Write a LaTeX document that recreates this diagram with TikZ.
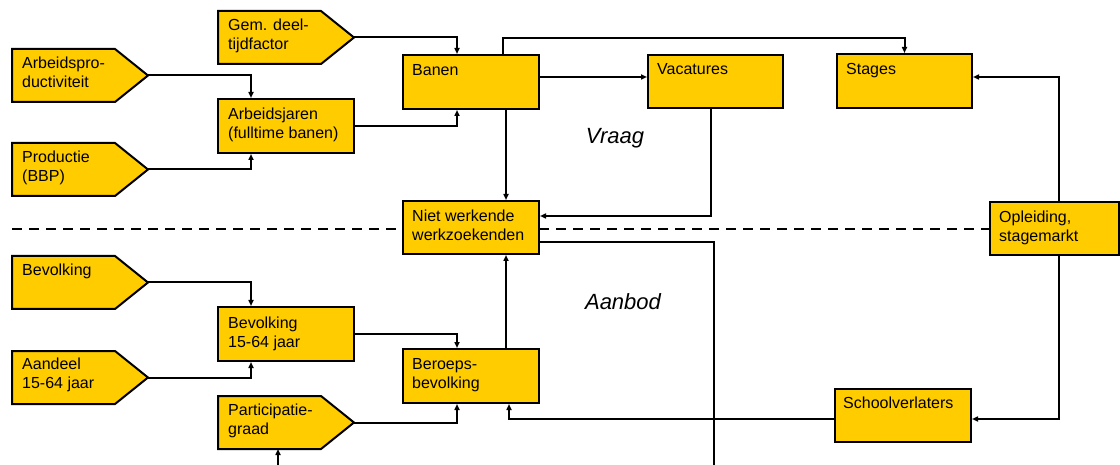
\documentclass[tikz,border=0pt]{standalone}
\usepackage{fontspec}
\setmainfont{Liberation Sans}
\usetikzlibrary{arrows.meta}
\definecolor{boxfill}{RGB}{255,204,0}
\newcommand\twol[2]{\vtop{\baselineskip=19pt\lineskiplimit=-10pt\hbox{#1}\hbox{#2}}}
\newcommand\pentnode[3]{%
 \node[pentbox] (#1) at (#2,#3) {};
 \draw[pentdraw] (#1.north west) -- ([xshift=-33pt]#1.north east) -- (#1.east)
   -- ([xshift=-33pt]#1.south east) -- (#1.south west) -- cycle;}
\begin{document}
\begin{tikzpicture}[x=1pt,y=-1pt,
 box/.style={draw=black, fill=boxfill, line width=2pt, rectangle, minimum width=136pt, minimum height=54pt, inner sep=0pt},
 pentbox/.style={rectangle, minimum width=136pt, minimum height=53pt, inner sep=0pt, outer sep=0pt},
 pentdraw/.style={draw=black, fill=boxfill, line width=2pt, line join=miter},
 lbl/.style={anchor=base west, inner sep=0pt, font=\fontsize{16}{19}\selectfont},
 big/.style={anchor=base, inner sep=0pt, font=\fontsize{22}{26}\selectfont\itshape},
 conn/.style={line width=2pt, -{Triangle[length=6pt,width=5pt]}},
 plain/.style={line width=2pt},
 sep/.style={line width=2pt, dash pattern=on 10pt off 7pt}]
\useasboundingbox (0,0) rectangle (1120,465);

% separator
\coordinate (dL) at (12,229);
\coordinate (dR) at (990,229);
\draw[sep] (dL) -- (dR);

% input pentagons
\pentnode{gem}{286}{37.5}
\pentnode{arbprod}{80}{75.5}
\pentnode{prod}{80}{169.5}
\pentnode{bev}{80}{282.5}
\pentnode{aand}{80}{377.5}
\pentnode{part}{286}{422.5}

% boxes
\node[box] (arbj) at (286,126) {};
\node[box] (banen) at (471,82) {};
\node[box, minimum width=135pt, minimum height=53pt] (vac) at (715.5,81.5) {};
\node[box, minimum width=135pt] (stages) at (904.5,81) {};
\node[box, minimum height=53pt] (nww) at (471,227.5) {};
\node[box, minimum width=129pt, minimum height=53pt] (opl) at (1054.5,228.5) {};
\node[box] (bev15) at (286,334) {};
\node[box] (ber) at (471,376) {};
\node[box, minimum height=53pt] (school) at (903,415.5) {};

% labels
\node[lbl] (t-gem) at (228,31) {\twol{Gem. deel-}{tijdfactor}};
\node[lbl] (t-arbprod) at (22,69) {\twol{Arbeidspro-}{ductiviteit}};
\node[lbl] (t-prod) at (22,163) {\twol{Productie}{(BBP)}};
\node[lbl] (t-arbj) at (228,120) {\twol{Arbeidsjaren}{(fulltime banen)}};
\node[lbl] (t-banen) at (412,76) {Banen};
\node[lbl] (t-vac) at (657,75) {Vacatures};
\node[lbl] (t-stages) at (846,75) {Stages};
\node[lbl] (t-nww) at (412,222) {\twol{Niet werkende}{werkzoekenden}};
\node[lbl] (t-opl) at (999,223) {\twol{Opleiding,}{stagemarkt}};
\node[lbl] (t-bev) at (22,276) {Bevolking};
\node[lbl] (t-bev15) at (228,328) {\twol{Bevolking}{15-64 jaar}};
\node[lbl] (t-aand) at (22,370) {\twol{Aandeel}{15-64 jaar}};
\node[lbl] (t-part) at (228,415) {\twol{Participatie-}{graad}};
\node[lbl] (t-ber) at (412,369) {\twol{Beroeps-}{bevolking}};
\node[lbl] (t-school) at (843,408) {Schoolverlaters};
\node[big] (vraag) at (615,144) {Vraag};
\node[big] (aanbod) at (623,309) {Aanbod};

% connectors
\draw[conn] (arbprod.east) -| ([xshift=-35pt]arbj.north);
\draw[conn] (prod.east) -| ([xshift=-35pt]arbj.south);
\draw[conn] (gem.east) -| ([xshift=-14pt]banen.north);
\draw[conn] (arbj.east) -| ([xshift=-14pt]banen.south);
\draw[conn] ([yshift=5pt]banen.east) -- ([yshift=5pt]banen.east -| vac.west);
\draw[conn] ([xshift=32pt]banen.north) -- ++(0,-16) -| (stages.north);
\draw[conn] ([xshift=35pt]banen.south) -- ([xshift=35pt]nww.north);
\draw[conn] ([xshift=-4.5pt]vac.south) |- ([yshift=11.5pt]nww.east);
\coordinate (nwwend) at (714,466);
\draw[plain] ([yshift=-14.5pt]nww.east) -| (nwwend);
\draw[conn] ([xshift=35pt]ber.north) -- ([xshift=35pt]nww.south);
\draw[conn] (bev.east) -| ([xshift=-35pt]bev15.north);
\draw[conn] (aand.east) -| ([xshift=-35pt]bev15.south);
\draw[conn] (bev15.east) -| ([xshift=-14pt]ber.north);
\draw[conn] (part.east) -| ([xshift=-14pt]ber.south);
\draw[conn] ([yshift=-3.5pt]school.west) -| ([xshift=38pt]ber.south);
\draw[conn] ([xshift=4.5pt]opl.north) |- ([yshift=4pt]stages.east);
\draw[conn] ([xshift=4.5pt]opl.south) |- ([yshift=-3.5pt]school.east);
\coordinate (partstart) at (278,466);
\draw[conn] (partstart) -- (partstart |- part.south);
\end{tikzpicture}
\end{document}
